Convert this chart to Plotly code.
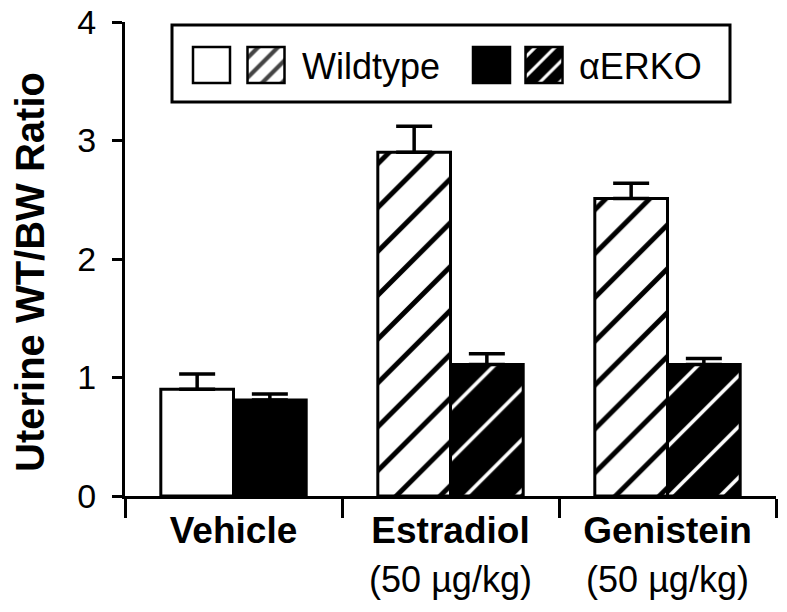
import plotly.graph_objects as go

# ---- data ----
categories = ["Vehicle", "Estradiol", "Genistein"]
tick_labels = ["<b>Vehicle</b>",
               "<b>Estradiol</b><br><span style='font-size:36px'>(50 µg/kg)</span>",
               "<b>Genistein</b><br><span style='font-size:36px'>(50 µg/kg)</span>"]
wildtype = [0.90, 2.90, 2.51]
wildtype_err = [0.13, 0.22, 0.13]
aerko = [0.81, 1.11, 1.11]
aerko_err = [0.05, 0.09, 0.05]
wt_patterns = ["", "/", "/"]
ko_patterns = ["", "/", "/"]
y_ticks = [0, 1, 2, 3, 4]
y_title = "<b>Uterine WT/BW Ratio</b>"

legend_texts = ["Wildtype", "\u03b1ERKO"]

FONT = "Liberation Sans, Arial, Helvetica, sans-serif"

W, H = 787, 612

fig = go.Figure()

fig.add_trace(go.Bar(
    x=categories, y=wildtype, name="Wildtype",
    marker=dict(color="white", line=dict(color="black", width=3),
                pattern=dict(shape=wt_patterns, fgcolor="black", fgopacity=1, size=31, solidity=0.16)),
    error_y=dict(type="data", array=wildtype_err, arrayminus=[0] * len(wildtype_err),
                 symmetric=False, color="black", thickness=3.5, width=18),
    showlegend=False,
))
fig.add_trace(go.Bar(
    x=categories, y=aerko, name="\u03b1ERKO",
    marker=dict(color="black", line=dict(color="black", width=3),
                pattern=dict(shape=ko_patterns, fgcolor="white", fgopacity=1, size=36, solidity=0.1)),
    error_y=dict(type="data", array=aerko_err, arrayminus=[0] * len(aerko_err),
                 symmetric=False, color="black", thickness=3.5, width=18),
    showlegend=False,
))

# ---- hand-built legend (overlay axes in screen-pixel units) ----
sw_x = [211.5, 266, 491.5, 544]
sw_colors = ["white", "white", "black", "black"]
sw_shapes = ["", "/", "", "/"]
sw_fg = ["black", "black", "white", "white"]
sw_solidity = [0.3, 0.3, 0.22, 0.22]
fig.add_trace(go.Bar(
    x=sw_x, y=[36] * 4, base=[47] * 4, width=[37] * 4,
    xaxis="x2", yaxis="y2", showlegend=False, hoverinfo="skip",
    marker=dict(color=sw_colors, line=dict(color="black", width=2.5),
                pattern=dict(shape=sw_shapes, fgcolor=sw_fg, fgopacity=1, size=14, solidity=sw_solidity)),
))

fig.add_shape(type="rect", xref="x2", yref="y2", x0=172, x1=730, y0=25, y1=102,
              line=dict(color="black", width=3), fillcolor="rgba(0,0,0,0)")
fig.add_annotation(xref="x2", yref="y2", x=300, y=66, text=legend_texts[0], showarrow=False,
                   xanchor="left", yanchor="middle", font=dict(family=FONT, size=36, color="black"))
fig.add_annotation(xref="x2", yref="y2", x=577, y=66, text=legend_texts[1], showarrow=False,
                   xanchor="left", yanchor="middle", font=dict(family=FONT, size=36, color="black"))

# y-axis title as rotated annotation (paper coords, left of the plot area)
fig.add_annotation(xref="paper", yref="paper", x=(30 - 125) / 651, y=(496 - 272) / 474,
                   text=y_title, showarrow=False, textangle=-90,
                   xanchor="center", yanchor="middle",
                   font=dict(family=FONT, size=40, color="black"))

fig.update_layout(
    width=W, height=H,
    margin=dict(l=125, r=11, t=22, b=116),
    paper_bgcolor="white", plot_bgcolor="white",
    barmode="group", bargap=0.33, bargroupgap=0,
    font=dict(family=FONT, color="black"),
    xaxis=dict(
        type="category", range=[-0.5, 2.5],
        tickvals=categories, ticktext=tick_labels,
        tickson="boundaries", ticks="outside", ticklen=19, tickwidth=3, tickcolor="black",
        showline=True, linewidth=3, linecolor="black", showgrid=False, zeroline=False,
        tickfont=dict(family=FONT, size=37, color="black"),
        ticklabeloverflow="allow",
    ),
    yaxis=dict(
        range=[0, 4], tickvals=y_ticks, ticks="outside", ticklen=10, tickwidth=3, tickcolor="black",
        showline=True, linewidth=3, linecolor="black", showgrid=False, zeroline=False,
        tickfont=dict(family=FONT, size=34, color="black"),
        ticklabelstandoff=9, ticklabeloverflow="allow",
        automargin=False,
    ),
    xaxis2=dict(overlaying="x", range=[125, 776], visible=False, anchor="y2"),
    yaxis2=dict(overlaying="y", range=[496, 22], visible=False, anchor="x2"),
)

# remove the default 8px page margin so the figure fills the window exactly
fig.write_html("out.html", config={"displayModeBar": False},
               post_script="document.body.style.margin='0';")
